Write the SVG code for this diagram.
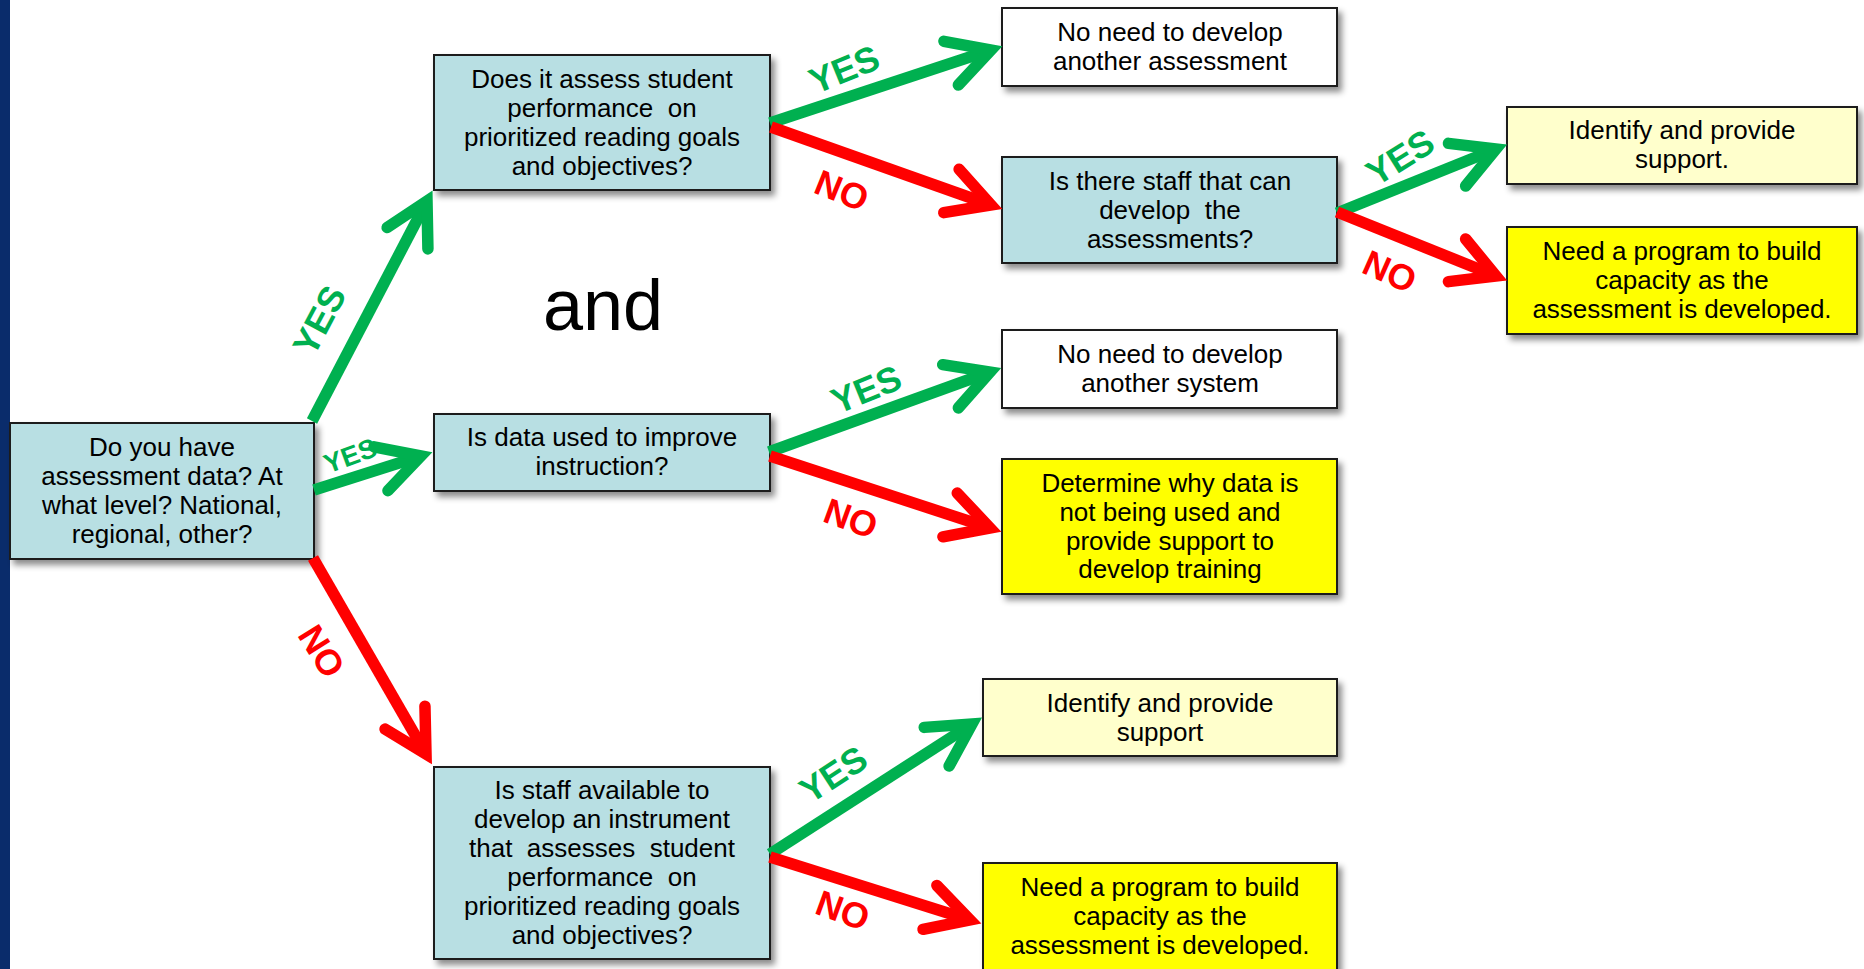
<svg xmlns="http://www.w3.org/2000/svg" width="1864" height="969" viewBox="0 0 1864 969">
  <style>
    .box { stroke: #1a1a1a; stroke-width: 2; filter: url(#shadow); }
    .q { fill: #B8DFE3; }
    .plain { fill: #FFFFFF; }
    .pale { fill: #FFFFCC; }
    .bright { fill: #FFFF00; }
    .t { font-family: "Liberation Sans", Arial, sans-serif; font-size: 26px; fill: #000; text-anchor: middle; white-space: pre; }
    .big { font-family: "Liberation Sans", Arial, sans-serif; font-size: 72px; fill: #000; }
    .yes, .no { font-family: "Liberation Sans", Arial, sans-serif; font-weight: bold; font-size: 36px; text-anchor: middle; }
    .yes { fill: #00B050; }
    .no { fill: #FF0000; }
    .sm { font-size: 27px; }
    .g { stroke: #00B050; stroke-width: 11.5; fill: none; marker-end: url(#headG); }
    .r { stroke: #FF0000; stroke-width: 11.5; fill: none; marker-end: url(#headR); }
  </style>
  <defs>
    <filter id="shadow" x="-10%" y="-10%" width="125%" height="130%">
      <feDropShadow dx="4" dy="5" stdDeviation="3" flood-color="#000" flood-opacity="0.45"/>
    </filter>
    <marker id="headG" markerUnits="userSpaceOnUse" orient="auto" refX="0" refY="0" markerWidth="10" markerHeight="10" overflow="visible">
      <path d="M-42,-23 L0,0 L-42,23" fill="none" stroke="#00B050" stroke-width="11.5" stroke-linecap="round" stroke-linejoin="miter"/>
    </marker>
    <marker id="headR" markerUnits="userSpaceOnUse" orient="auto" refX="0" refY="0" markerWidth="10" markerHeight="10" overflow="visible">
      <path d="M-42,-23 L0,0 L-42,23" fill="none" stroke="#FF0000" stroke-width="11.5" stroke-linecap="round" stroke-linejoin="miter"/>
    </marker>
  </defs>

  <rect x="0" y="0" width="1864" height="969" fill="#FFFFFF"/>
  <!-- slide edge band -->
  <rect x="0" y="0" width="10" height="969" fill="#0A2C6B"/>

  <text class="big" x="543" y="330">and</text>

  <g id="node-have-data">
    <rect class="box q" x="10" y="423" width="304" height="136"/>
    <text class="t" x="162" y="456">Do you have</text>
    <text class="t" x="162" y="485">assessment data? At</text>
    <text class="t" x="162" y="514">what level? National,</text>
    <text class="t" x="162" y="543">regional, other?</text>
  </g>

  <g id="node-assess-goals">
    <rect class="box q" x="434" y="55" width="336" height="135"/>
    <text class="t" x="602" y="88">Does it assess student</text>
    <text class="t" x="602" y="117">performance  on</text>
    <text class="t" x="602" y="146">prioritized reading goals</text>
    <text class="t" x="602" y="175">and objectives?</text>
  </g>

  <g id="node-no-need-assessment">
    <rect class="box plain" x="1002" y="8" width="335" height="78"/>
    <text class="t" x="1170" y="41">No need to develop</text>
    <text class="t" x="1170" y="70">another assessment</text>
  </g>

  <g id="node-staff-develop">
    <rect class="box q" x="1002" y="157" width="335" height="106"/>
    <text class="t" x="1170" y="190">Is there staff that can</text>
    <text class="t" x="1170" y="219">develop  the</text>
    <text class="t" x="1170" y="248">assessments?</text>
  </g>

  <g id="node-support-top">
    <rect class="box pale" x="1507" y="107" width="350" height="77"/>
    <text class="t" x="1682" y="139">Identify and provide</text>
    <text class="t" x="1682" y="168">support.</text>
  </g>

  <g id="node-capacity-top">
    <rect class="box bright" x="1507" y="227" width="350" height="107"/>
    <text class="t" x="1682" y="260">Need a program to build</text>
    <text class="t" x="1682" y="289">capacity as the</text>
    <text class="t" x="1682" y="318">assessment is developed.</text>
  </g>

  <g id="node-no-need-system">
    <rect class="box plain" x="1002" y="330" width="335" height="78"/>
    <text class="t" x="1170" y="363">No need to develop</text>
    <text class="t" x="1170" y="392">another system</text>
  </g>

  <g id="node-data-used">
    <rect class="box q" x="434" y="414" width="336" height="77"/>
    <text class="t" x="602" y="446">Is data used to improve</text>
    <text class="t" x="602" y="475">instruction?</text>
  </g>

  <g id="node-determine-why">
    <rect class="box bright" x="1002" y="459" width="335" height="135"/>
    <text class="t" x="1170" y="492">Determine why data is</text>
    <text class="t" x="1170" y="521">not being used and</text>
    <text class="t" x="1170" y="550">provide support to</text>
    <text class="t" x="1170" y="578">develop training</text>
  </g>

  <g id="node-staff-available">
    <rect class="box q" x="434" y="767" width="336" height="192"/>
    <text class="t" x="602" y="799">Is staff available to</text>
    <text class="t" x="602" y="828">develop an instrument</text>
    <text class="t" x="602" y="857">that  assesses  student</text>
    <text class="t" x="602" y="886">performance  on</text>
    <text class="t" x="602" y="915">prioritized reading goals</text>
    <text class="t" x="602" y="944">and objectives?</text>
  </g>

  <g id="node-support-bottom">
    <rect class="box pale" x="983" y="679" width="354" height="77"/>
    <text class="t" x="1160" y="712">Identify and provide</text>
    <text class="t" x="1160" y="741">support</text>
  </g>

  <g id="node-capacity-bottom">
    <rect class="box bright" x="983" y="863" width="354" height="125"/>
    <text class="t" x="1160" y="896">Need a program to build</text>
    <text class="t" x="1160" y="925">capacity as the</text>
    <text class="t" x="1160" y="954">assessment is developed.</text>
  </g>

  <g id="connectors">
    <!-- yes branches -->
    <line class="g" x1="312" y1="421" x2="427" y2="201"/>
    <line class="g" x1="314" y1="490" x2="421" y2="456"/>
    <line class="g" x1="770" y1="123" x2="991" y2="50"/>
    <line class="g" x1="1337" y1="213" x2="1496" y2="149"/>
    <line class="g" x1="769" y1="452" x2="990" y2="372"/>
    <line class="g" x1="770" y1="854" x2="972" y2="724"/>
    <!-- no branches -->
    <line class="r" x1="313" y1="558" x2="426" y2="754"/>
    <line class="r" x1="771" y1="127" x2="991" y2="205"/>
    <line class="r" x1="1337" y1="212" x2="1496" y2="276"/>
    <line class="r" x1="770" y1="456" x2="990" y2="528"/>
    <line class="r" x1="770" y1="857" x2="970" y2="920"/>

    <!-- branch labels -->
    <text class="yes" transform="translate(319,320) rotate(-62)" y="13">YES</text>
    <text class="yes sm" transform="translate(350,455) rotate(-20)" y="10">YES</text>
    <text class="no" transform="translate(322,651) rotate(58)" y="13">NO</text>
    <text class="yes" transform="translate(844,69) rotate(-22)" y="13">YES</text>
    <text class="no" transform="translate(842,190) rotate(22)" y="13">NO</text>
    <text class="yes" transform="translate(1400,157) rotate(-32)" y="13">YES</text>
    <text class="no" transform="translate(1390,271) rotate(24)" y="13">NO</text>
    <text class="yes" transform="translate(866,389) rotate(-22)" y="13">YES</text>
    <text class="no" transform="translate(851,518) rotate(20)" y="13">NO</text>
    <text class="yes" transform="translate(833,774) rotate(-33)" y="13">YES</text>
    <text class="no" transform="translate(843,910) rotate(20)" y="13">NO</text>
  </g>
</svg>
